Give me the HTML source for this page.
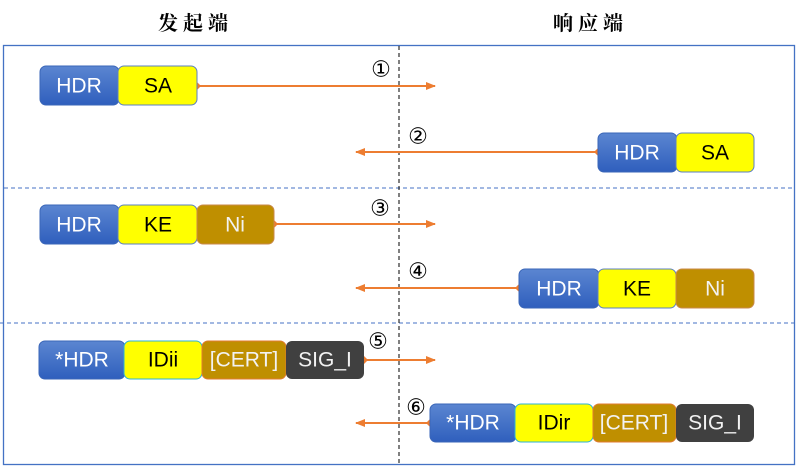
<!DOCTYPE html>
<html><head><meta charset="utf-8"><style>
html,body{margin:0;padding:0;background:#fff;width:797px;height:467px;overflow:hidden}
svg{display:block}
.t{font-family:"Liberation Sans",Arial,sans-serif;font-size:21px;text-anchor:middle;dominant-baseline:central}
.n{font-family:"DejaVu Sans",sans-serif;font-size:22px;text-anchor:middle;dominant-baseline:central}
.h{font-family:"Liberation Serif","Noto Serif CJK SC",serif;font-size:20px;font-weight:bold;letter-spacing:5px}
</style></head><body>
<svg width="797" height="467" viewBox="0 0 797 467" xmlns="http://www.w3.org/2000/svg">
<defs>
<linearGradient id="bl" x1="0" y1="0" x2="0" y2="1"><stop offset="0" stop-color="#5b86d1"/><stop offset="1" stop-color="#2f5fbd"/></linearGradient>
<marker id="ah" markerWidth="10" markerHeight="8" refX="9" refY="4" orient="auto" markerUnits="userSpaceOnUse"><path d="M0,0 L10,4 L0,8 Z" fill="#ed7d31"/></marker>
<marker id="dm" markerWidth="8" markerHeight="8" refX="4" refY="4" orient="auto" markerUnits="userSpaceOnUse"><path d="M4,0 L8,4 L4,8 L0,4 Z" fill="#ed7d31"/></marker>
</defs>
<text class="h" x="158" y="30">发起端</text>
<text class="h" x="553" y="30">响应端</text>
<rect x="3.5" y="45.5" width="791" height="419" fill="none" stroke="#4472c4" stroke-width="1.3"/>
<line x1="4" y1="188" x2="794" y2="188" stroke="#4472c4" stroke-dasharray="4,3"/>
<line x1="0" y1="323" x2="794" y2="323" stroke="#4472c4" stroke-dasharray="4,3"/>
<line x1="399" y1="46" x2="399" y2="465" stroke="#000" stroke-dasharray="4,3"/>

<!-- arrows -->
<g stroke="#ed7d31" stroke-width="2" fill="none">
<line x1="197" y1="86" x2="435" y2="86" marker-start="url(#dm)" marker-end="url(#ah)"/>
<line x1="598" y1="152" x2="356" y2="152" marker-start="url(#dm)" marker-end="url(#ah)"/>
<line x1="274" y1="224" x2="435" y2="224" marker-start="url(#dm)" marker-end="url(#ah)"/>
<line x1="519" y1="288" x2="356" y2="288" marker-start="url(#dm)" marker-end="url(#ah)"/>
<line x1="364" y1="360" x2="435" y2="360" marker-start="url(#dm)" marker-end="url(#ah)"/>
<line x1="430" y1="423" x2="356" y2="423" marker-start="url(#dm)" marker-end="url(#ah)"/>
</g>
<text class="n" x="381" y="70">①</text>
<text class="n" x="418" y="137">②</text>
<text class="n" x="380" y="209">③</text>
<text class="n" x="418" y="272">④</text>
<text class="n" x="378" y="342">⑤</text>
<text class="n" x="416" y="408">⑥</text>

<!-- row1 -->
<rect x="40" y="66" width="79" height="39" rx="6" fill="url(#bl)" stroke="#3a66b8"/>
<text class="t" x="79" y="86" fill="#fff">HDR</text>
<rect x="118" y="66" width="79" height="39" rx="6" fill="#ffff00" stroke="#5b7fc4"/>
<text class="t" x="158" y="86" fill="#000">SA</text>
<!-- row2 -->
<rect x="598" y="133" width="79" height="39" rx="6" fill="url(#bl)" stroke="#3a66b8"/>
<text class="t" x="637" y="153" fill="#fff">HDR</text>
<rect x="676" y="133" width="78" height="39" rx="6" fill="#ffff00" stroke="#5b7fc4"/>
<text class="t" x="715" y="153" fill="#000">SA</text>
<!-- row3 -->
<rect x="40" y="205" width="79" height="39" rx="6" fill="url(#bl)" stroke="#3a66b8"/>
<text class="t" x="79" y="225" fill="#fff">HDR</text>
<rect x="118" y="205" width="79" height="39" rx="6" fill="#ffff00" stroke="#5b7fc4"/>
<text class="t" x="158" y="225" fill="#000">KE</text>
<rect x="197" y="205" width="77" height="39" rx="6" fill="#bf8f00" stroke="#c9894a"/>
<text class="t" x="235" y="225" fill="#f2f2f2">Ni</text>
<!-- row4 -->
<rect x="519" y="269" width="80" height="39" rx="6" fill="url(#bl)" stroke="#3a66b8"/>
<text class="t" x="559" y="289" fill="#fff">HDR</text>
<rect x="598" y="269" width="78" height="39" rx="6" fill="#ffff00" stroke="#5b7fc4"/>
<text class="t" x="637" y="289" fill="#000">KE</text>
<rect x="676" y="269" width="78" height="39" rx="6" fill="#bf8f00" stroke="#c9894a"/>
<text class="t" x="715" y="289" fill="#f2f2f2">Ni</text>
<!-- row5 -->
<rect x="39" y="341" width="86" height="38" rx="6" fill="url(#bl)" stroke="#3a66b8"/>
<text class="t" x="82" y="360" fill="#fff">*HDR</text>
<rect x="124" y="341" width="78" height="38" rx="6" fill="#ffff00" stroke="#2eb3d6"/>
<text class="t" x="163" y="360" fill="#000">IDii</text>
<rect x="202" y="341" width="84" height="38" rx="6" fill="#bf8f00" stroke="#e07b30"/>
<text class="t" x="244" y="360" fill="#f2f2f2">[CERT]</text>
<rect x="286" y="341" width="78" height="38" rx="6" fill="#404040"/>
<text class="t" x="325" y="360" fill="#f2f2f2">SIG_I</text>
<!-- row6 -->
<rect x="430" y="404" width="86" height="38" rx="6" fill="url(#bl)" stroke="#3a66b8"/>
<text class="t" x="473" y="423" fill="#fff">*HDR</text>
<rect x="515" y="404" width="78" height="38" rx="6" fill="#ffff00" stroke="#2eb3d6"/>
<text class="t" x="554" y="423" fill="#000">IDir</text>
<rect x="593" y="404" width="83" height="38" rx="6" fill="#bf8f00" stroke="#e07b30"/>
<text class="t" x="634" y="423" fill="#f2f2f2">[CERT]</text>
<rect x="676" y="404" width="78" height="38" rx="6" fill="#404040"/>
<text class="t" x="715" y="423" fill="#f2f2f2">SIG_I</text>
</svg>
</body></html>
